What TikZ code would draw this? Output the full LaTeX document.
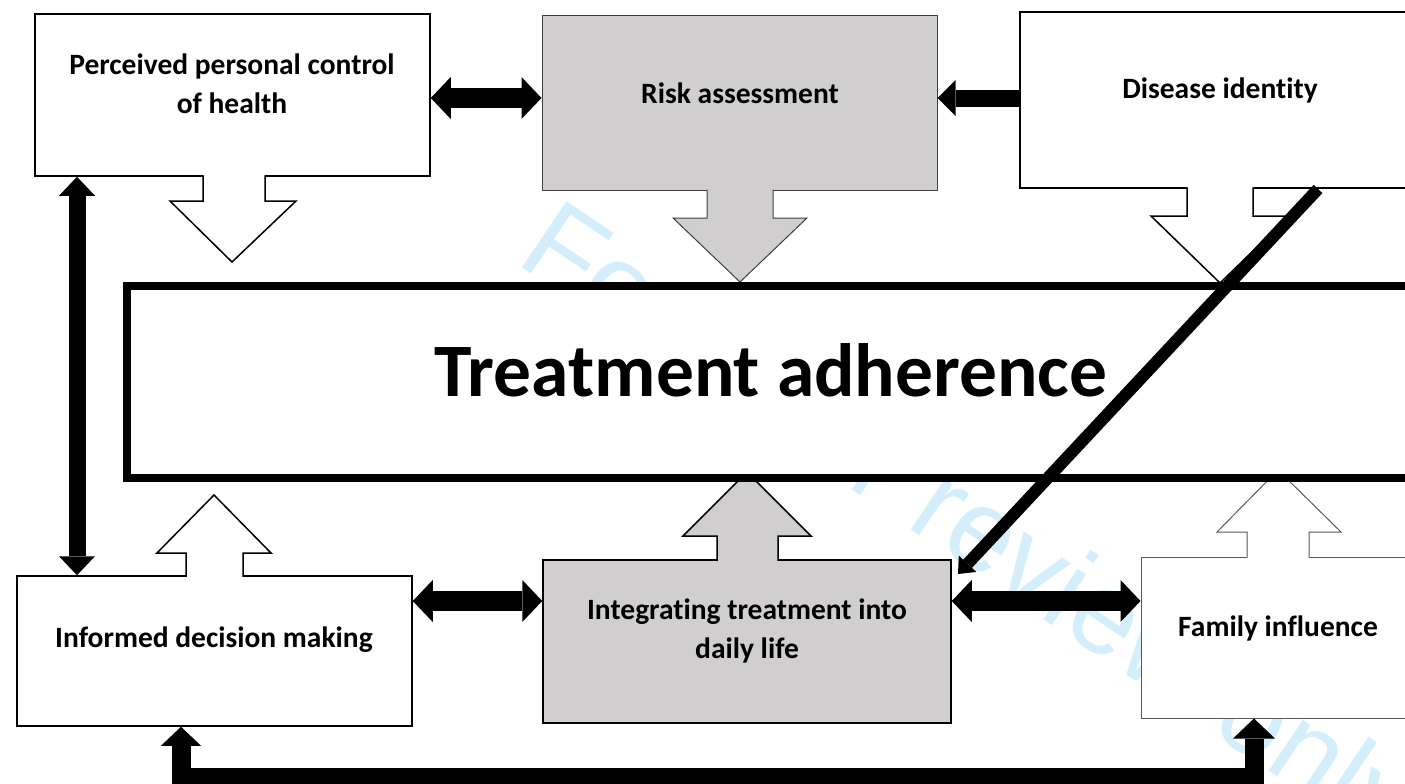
\documentclass[tikz,border=0pt]{standalone}
\usepackage{fontspec}
\setmainfont{Carlito}[Ligatures=NoCommon]
\newfontfamily\wmfont{Liberation Sans}
\usetikzlibrary{arrows.meta,calc}
\definecolor{boxgray}{RGB}{208,206,206}
\definecolor{wmblue}{RGB}{212,239,251}
\begin{document}
\begin{tikzpicture}[x=1pt,y=-1pt,
  box/.style={draw=black,line width=1.5pt,fill=white,inner sep=0pt},
  graybox/.style={draw=black,line width=1.5pt,fill=boxgray,inner sep=0pt},
  lbl/.style={font=\bfseries\fontsize{29.5}{39}\selectfont,align=center,inner sep=0pt},
  blk/.style={line width=1.5pt,line join=miter},
  dbl/.style={line width=20pt,{Triangle[width=42pt,length=20pt,line width=0pt]}-{Triangle[width=42pt,length=20pt,line width=0pt]}},
  sgl/.style={line width=17pt,-{Triangle[width=36pt,length=18pt,line width=0pt]}},
  vdbl/.style={line width=17pt,{Triangle[width=36pt,length=19pt,line width=0pt]}-{Triangle[width=36pt,length=19pt,line width=0pt]}},
  diag/.style={line width=12pt,-{Triangle[width=24pt,length=14pt,line width=0pt]}},
  loop/.style={line width=19pt,line join=miter,{Triangle[width=42pt,length=20pt,line width=0pt]}-{Triangle[width=40pt,length=19pt,line width=0pt]}}
]
\useasboundingbox (0,0) rectangle (1405,784);
\clip (0,0) rectangle (1405,784);
\fill[white] (0,0) rectangle (1405,784);

% watermark
\node[wmblue,font=\wmfont\fontsize{116}{116}\selectfont,anchor=base west,rotate=-34,inner sep=0pt] (wm) at (514,262) {For peer review only};

% boxes
\node[box,minimum width=395pt,minimum height=162pt] (ppc) at (232.5,95) {};
\node[graybox,draw=black!75,line width=1pt,minimum width=395pt,minimum height=174pt] (ra) at (739.5,103) {};
\node[box,minimum width=440pt,minimum height=176pt] (di) at (1240,100) {};
\node[box,minimum width=395pt,minimum height=150pt] (idm) at (214.5,651) {};
\node[graybox,minimum width=408pt,minimum height=163pt] (int) at (747,641.5) {};
\node[box,draw=black!65,line width=1pt,minimum width=319pt,minimum height=161pt] (fam) at (1300.5,637.5) {};

% block arrows
\fill[white] (203,174.5) -- (203,201) -- (170,201) -- (232,262) -- (296,201) -- (265,201) -- (265,174.5) -- cycle;
\draw[blk] (203,175.25) -- (203,201) -- (170,201) -- (232,262) -- (296,201) -- (265,201) -- (265,175.25);

\fill[boxgray] (707,189) -- (707,218) -- (673,218) -- (740,282) -- (807,218) -- (773,218) -- (773,189) -- cycle;
\draw[blk,line width=1pt,draw=black!75] (707,189.5) -- (707,218) -- (673,218) -- (740,282) -- (807,218) -- (773,218) -- (773,189.5);

\fill[white] (1187,186.5) -- (1187,216) -- (1151,216) -- (1220,283) -- (1289,216) -- (1253,216) -- (1253,186.5) -- cycle;
\draw[blk] (1187,187.25) -- (1187,216) -- (1151,216) -- (1220,283) -- (1289,216) -- (1253,216) -- (1253,187.25);

\fill[white] (186,577.5) -- (186,553) -- (157,553) -- (214,495) -- (271,553) -- (243,553) -- (243,577.5) -- cycle;
\draw[blk] (186,576.75) -- (186,553) -- (157,553) -- (214,495) -- (271,553) -- (243,553) -- (243,576.75);

\fill[boxgray] (717,561.5) -- (717,536) -- (683,536) -- (747,472) -- (811,536) -- (778,536) -- (778,561.5) -- cycle;
\draw[blk] (717,560.75) -- (717,536) -- (683,536) -- (747,472) -- (811,536) -- (778,536) -- (778,560.75);

\fill[white] (1247,558) -- (1247,532) -- (1217,532) -- (1278,470) -- (1341,532) -- (1309,532) -- (1309,558) -- cycle;
\draw[blk,line width=1pt,draw=black!65] (1247,557.5) -- (1247,532) -- (1217,532) -- (1278,470) -- (1341,532) -- (1309,532) -- (1309,557.5);

% central box
\node[draw=black,line width=8pt,fill=white,minimum width=1333pt,minimum height=192pt,inner sep=0pt] (ta) at (793.5,382) {};
\node[font=\bfseries\fontsize{75.5}{80}\selectfont,inner sep=0pt] (tatext) at (771,370) {Treatment adherence};

% labels
\node[lbl] (ppct) at (232,84) {Perceived personal control\\of health};
\node[lbl] (rat) at (740,93) {Risk assessment};
\node[lbl] (dit) at (1220,90) {Disease identity};
\node[lbl] (idmt) at (214,640) {Informed decision making};
\node[lbl] (intt) at (747,631) {Integrating treatment into\\daily life};
\node[lbl] (famt) at (1278,628) {Family influence};

% black connectors
\draw[dbl] ([yshift=-3pt]ppc.east) -- ([yshift=-3pt]ppc.east -| ra.west);
\draw[sgl] ([yshift=2pt]di.west) -- ([yshift=2pt]di.west -| ra.east);
\draw[vdbl] ([xshift=-155.5pt]ppc.south) -- ([xshift=-155.5pt]ppc.south |- idm.north);
\draw[dbl] ([yshift=50pt]idm.east) -- ([yshift=50pt]idm.east -| int.west);
\draw[dbl] ([yshift=40.5pt]int.east) -- ([yshift=40.5pt]int.east -| fam.west);
\coordinate (dstart) at (1318,189);
\coordinate (dend) at (958,574);
\draw[diag] (dstart) -- (dend);
\coordinate (lr) at (1254,777);
\coordinate (ll) at (181,777);
\draw[loop] ([xshift=-46.5pt]fam.south) -- (lr) -- (ll) -- ([xshift=-33.5pt]idm.south);
\end{tikzpicture}
\end{document}
